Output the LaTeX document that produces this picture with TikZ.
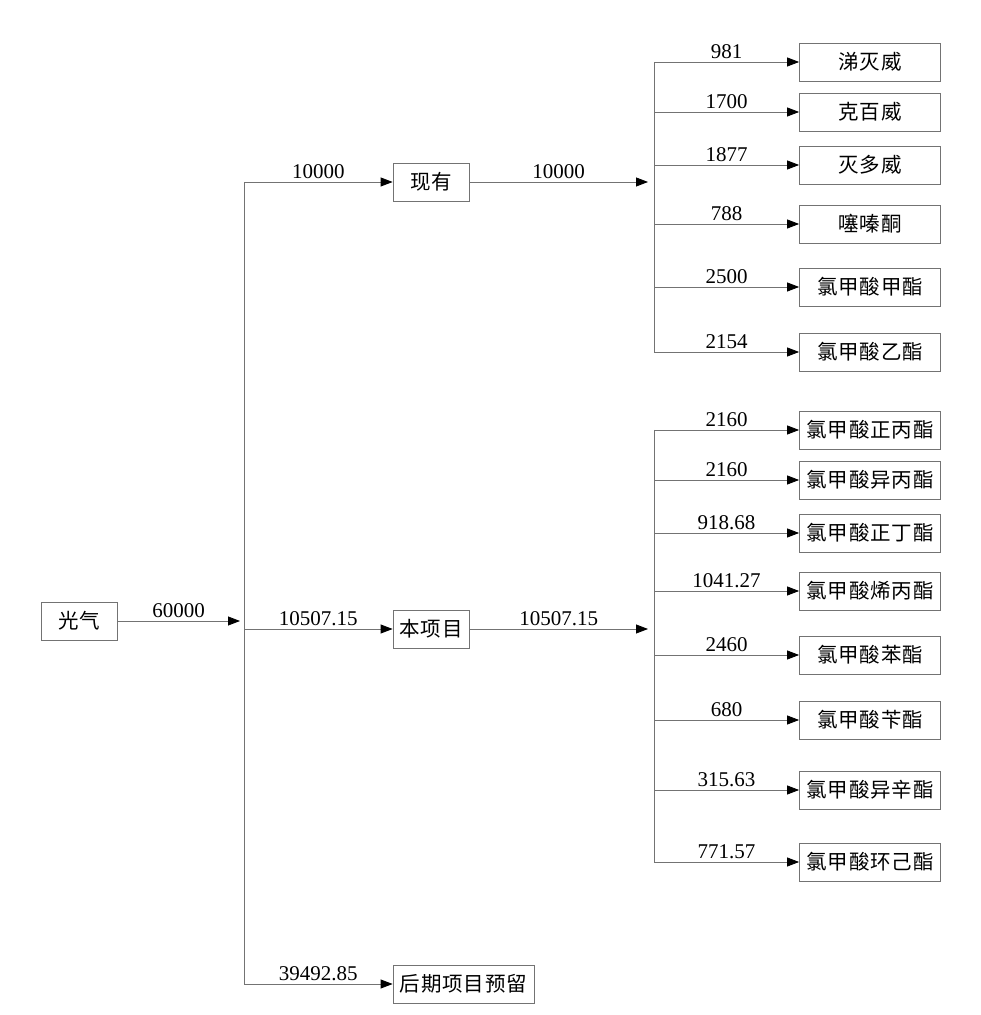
\documentclass[tikz,border=0pt]{standalone}
\usepackage{fontspec}
\setmainfont{Liberation Serif}
\newfontfamily\cjk[LetterSpace=4]{Noto Sans CJK SC}
\usetikzlibrary{arrows.meta}
\begin{document}
\begin{tikzpicture}[x=1pt,y=1pt,line width=0.8pt,draw=black!55,
	box/.style={draw=black!55, minimum height=38pt, inner sep=0pt, font=\cjk\fontsize{20.5}{24}\selectfont},
	leaf/.style={box, minimum width=141pt},
	arr/.style={-{Triangle[length=12pt,width=9pt,color=black]}},
	num/.style={above, inner sep=2.5pt, font=\fontsize{21}{24}\selectfont}]
	\useasboundingbox (0,0) rectangle (981,1015);
	% first level
	\node (GQ)  at ( 79,  394)	[box, minimum width=76pt]	{光气};
	\node (XY)  at (431,  833)	[box, minimum width=76pt]	{现有};
	\node (BXM) at (431,  386)	[box, minimum width=76pt]	{本项目};
	\node (HQ)  at (463.5, 31)	[box, minimum width=141pt]	{后期项目预留};
	\coordinate (T0) at (240, 394);
	\coordinate (T1) at (244, 833);
	\coordinate (T2) at (244, 386);
	\coordinate (T3) at (244,  31);
	\draw[arr] (GQ) -- (T0) node[num, midway] {60000};
	\draw (T1) -- (T3);
	\draw[arr] (T1) -- (XY) node[num, midway] {10000};
	\draw[arr] (T2) -- (BXM) node[num, midway] {10507.15};
	\draw[arr] (T3) -- (HQ) node[num, midway] {39492.85};
	% existing products
	\coordinate (S1) at (648, 833);
	\coordinate (U1) at (654, 833);
	\node (A1) at (870, 953)	[leaf]	{涕灭威};
	\node (A2) at (870, 903)	[leaf]	{克百威};
	\node (A3) at (870, 850)	[leaf]	{灭多威};
	\node (A4) at (870, 791)	[leaf]	{噻嗪酮};
	\node (A5) at (870, 728)	[leaf]	{氯甲酸甲酯};
	\node (A6) at (870, 663)	[leaf]	{氯甲酸乙酯};
	\draw[arr] (XY) -- (S1) node[num, midway] {10000};
	\draw (U1 |- A1) -- (U1 |- A6);
	\draw[arr] (U1 |- A1) -- (A1) node[num, midway] {981};
	\draw[arr] (U1 |- A2) -- (A2) node[num, midway] {1700};
	\draw[arr] (U1 |- A3) -- (A3) node[num, midway] {1877};
	\draw[arr] (U1 |- A4) -- (A4) node[num, midway] {788};
	\draw[arr] (U1 |- A5) -- (A5) node[num, midway] {2500};
	\draw[arr] (U1 |- A6) -- (A6) node[num, midway] {2154};
	% this project
	\coordinate (S2) at (648, 386);
	\coordinate (U2) at (654, 386);
	\node (B1) at (870, 585)	[leaf]	{氯甲酸正丙酯};
	\node (B2) at (870, 535)	[leaf]	{氯甲酸异丙酯};
	\node (B3) at (870, 482)	[leaf]	{氯甲酸正丁酯};
	\node (B4) at (870, 424)	[leaf]	{氯甲酸烯丙酯};
	\node (B5) at (870, 360)	[leaf]	{氯甲酸苯酯};
	\node (B6) at (870, 295)	[leaf]	{氯甲酸苄酯};
	\node (B7) at (870, 225)	[leaf]	{氯甲酸异辛酯};
	\node (B8) at (870, 153)	[leaf]	{氯甲酸环己酯};
	\draw[arr] (BXM) -- (S2) node[num, midway] {10507.15};
	\draw (U2 |- B1) -- (U2 |- B8);
	\draw[arr] (U2 |- B1) -- (B1) node[num, midway] {2160};
	\draw[arr] (U2 |- B2) -- (B2) node[num, midway] {2160};
	\draw[arr] (U2 |- B3) -- (B3) node[num, midway] {918.68};
	\draw[arr] (U2 |- B4) -- (B4) node[num, midway] {1041.27};
	\draw[arr] (U2 |- B5) -- (B5) node[num, midway] {2460};
	\draw[arr] (U2 |- B6) -- (B6) node[num, midway] {680};
	\draw[arr] (U2 |- B7) -- (B7) node[num, midway] {315.63};
	\draw[arr] (U2 |- B8) -- (B8) node[num, midway] {771.57};
\end{tikzpicture}
\end{document}
